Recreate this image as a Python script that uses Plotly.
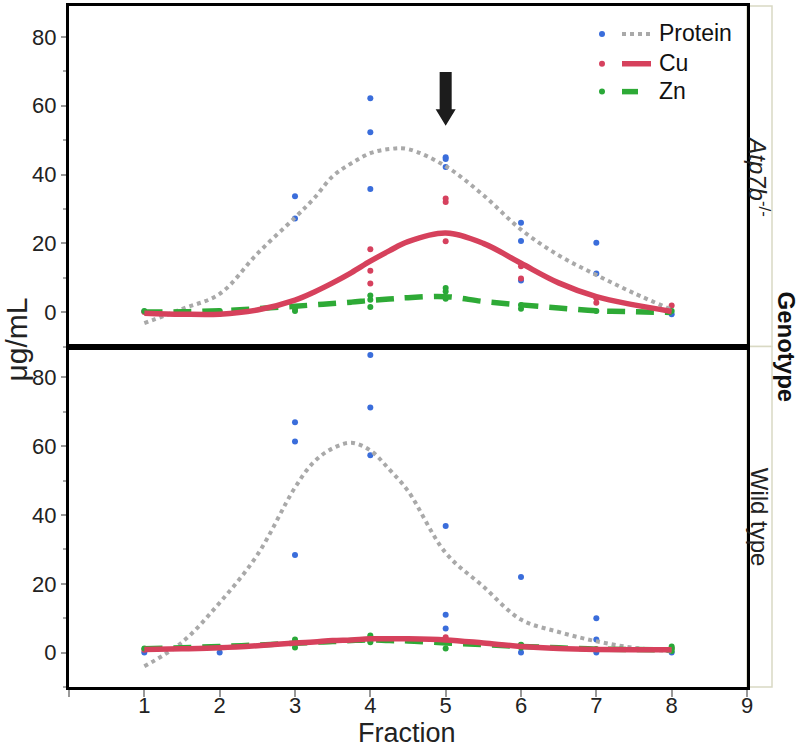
import plotly.graph_objects as go
from plotly.subplots import make_subplots

FONT = "Liberation Sans, Arial, sans-serif"

# ---------------- data ----------------
panels = ["Atp7b-/-", "Wild type"]

# raw measurements (Fraction, value) -- Atp7b-/- panel
ko_protein_x = [1, 2, 3, 3, 4, 4, 4, 5, 5, 5, 6, 6, 6, 7, 7, 8]
ko_protein_y = [0.2, -0.5, 33.7, 27.2, 62.2, 52.3, 35.8, 45.0, 44.5, 42.2, 26.0, 20.7, 9.2, 20.2, 11.2, -0.6]
ko_cu_x = [1, 2, 3, 4, 4, 4, 5, 5, 5, 6, 6, 7, 7, 8]
ko_cu_y = [0.0, 0.0, 1.0, 18.3, 12.0, 8.3, 33.0, 32.0, 20.6, 13.3, 9.8, 4.0, 2.7, 1.9]
ko_zn_x = [1, 2, 3, 3, 4, 4, 4, 5, 5, 5, 6, 6, 7, 8]
ko_zn_y = [0.3, 0.3, 1.3, 0.3, 4.8, 3.6, 1.5, 7.0, 6.0, 3.9, 2.1, 1.0, 0.3, 0.3]

# raw measurements -- Wild type panel
wt_protein_x = [1, 2, 3, 3, 3, 4, 4, 4, 5, 5, 5, 6, 6, 7, 7, 7, 8]
wt_protein_y = [0.0, 0.0, 67.0, 61.4, 28.4, 86.5, 71.3, 57.4, 36.8, 11.0, 7.0, 22.0, 0.0, 10.0, 3.8, 0.0, 0.0]
wt_cu_x = [1, 3, 4, 4, 5, 6, 7, 8]
wt_cu_y = [0.8, 3.0, 4.5, 3.5, 4.5, 2.2, 1.0, 1.2]
wt_zn_x = [1, 2, 3, 3, 3, 4, 4, 4, 5, 5, 6, 6, 7, 8, 8, 8]
wt_zn_y = [1.2, 1.5, 3.8, 2.8, 1.5, 5.0, 3.5, 3.0, 3.0, 1.2, 2.3, 1.5, 1.0, 1.8, 1.2, 0.5]

# fitted smooth curves
fit_x = [1, 1.5, 2, 2.5, 3, 3.25, 3.5, 3.75, 4, 4.25, 4.5, 5, 5.5, 6, 6.5, 7, 7.5, 8]
ko_protein_fit = [-3.2, 0.9, 5.3, 17.0, 27.5, 33.0, 39.5, 43.3, 46.2, 47.4, 47.4, 42.4, 34.0, 24.0, 16.5, 10.8, 5.5, 0.7]
ko_cu_fit = [-0.3, -0.6, -0.6, 0.6, 3.5, 5.8, 8.5, 11.5, 14.8, 17.8, 20.5, 23.0, 20.0, 14.2, 8.5, 4.5, 2.1, 0.2]
ko_zn_fit = [0.0, 0.1, 0.4, 1.0, 1.7, 2.1, 2.5, 2.9, 3.4, 3.8, 4.2, 4.5, 3.1, 2.1, 1.2, 0.4, 0.1, -0.1]
wt_protein_fit = [-4.0, 3.0, 14.5, 28.4, 48.0, 55.4, 59.4, 61.0, 58.8, 53.3, 47.0, 29.0, 19.2, 9.6, 6.0, 3.3, 1.4, 0.4]
wt_cu_fit = [0.9, 1.1, 1.4, 2.0, 2.8, 3.1, 3.5, 3.7, 4.0, 4.0, 4.0, 3.7, 2.8, 1.8, 1.2, 0.9, 0.8, 0.8]
wt_zn_fit = [1.1, 1.4, 1.8, 2.2, 2.7, 3.0, 3.2, 3.5, 3.7, 3.5, 3.4, 2.8, 2.3, 1.8, 1.4, 1.0, 0.9, 0.8]

series = ["Protein", "Cu", "Zn"]
x_tickvals = [1, 2, 3, 4, 5, 6, 7, 8, 9]
y_tickvals = [0, 20, 40, 60, 80]

# arrow marking fraction 5 in the top panel
arrow_x = 5
arrow_y = [69.8, 59.0, 54.2]  # top of shaft, start of head, tip

# ---------------- styles ----------------
dot_col = {"Protein": "#3a6ddb", "Cu": "#d6415e", "Zn": "#2aa838"}
line_style = {
    "Protein": dict(color="#a9a9a9", width=4, dash="4px,4px"),
    "Cu": dict(color="#d6415c", width=5.5, dash="solid"),
    "Zn": dict(color="#2eaa36", width=5.5, dash="18px,11px"),
}

fig = make_subplots(rows=2, cols=1, shared_xaxes=True, vertical_spacing=0)

panel_data = [
    (1, {"Protein": (ko_protein_x, ko_protein_y, ko_protein_fit),
         "Cu": (ko_cu_x, ko_cu_y, ko_cu_fit),
         "Zn": (ko_zn_x, ko_zn_y, ko_zn_fit)}),
    (2, {"Protein": (wt_protein_x, wt_protein_y, wt_protein_fit),
         "Cu": (wt_cu_x, wt_cu_y, wt_cu_fit),
         "Zn": (wt_zn_x, wt_zn_y, wt_zn_fit)}),
]

for row, d in panel_data:
    for s in series:
        px_, py_, fit = d[s]
        fig.add_trace(go.Scatter(x=px_, y=py_, mode="markers",
                                 marker=dict(size=6, color=dot_col[s]),
                                 showlegend=False, hoverinfo="skip"), row=row, col=1)
    for s in ["Protein", "Zn", "Cu"]:
        px_, py_, fit = d[s]
        fig.add_trace(go.Scatter(x=fit_x, y=fit, mode="lines", line_shape="spline",
                                 line=line_style[s], showlegend=False, hoverinfo="skip"),
                      row=row, col=1)

axis_common = dict(showline=True, linecolor="black", linewidth=3, mirror=True,
                   showgrid=False, zeroline=False)

for r in (1, 2):
    fig.update_yaxes(range=[-10, 89], tickvals=y_tickvals, ticks="outside", ticklen=5,
                     tickcolor="#999999", tickwidth=1.5,
                     minor=dict(dtick=10, tick0=0, ticks="outside", ticklen=3,
                                tickcolor="#aaaaaa", tickwidth=1.5),
                     tickfont=dict(family=FONT, size=22, color="#222222"),
                     row=r, col=1, **axis_common)

fig.update_xaxes(range=[0, 9], tickvals=x_tickvals, row=1, col=1,
                 ticks="", showticklabels=False, **axis_common)
fig.update_xaxes(range=[0, 9], tickvals=x_tickvals, row=2, col=1,
                 ticks="outside", ticklen=7, tickcolor="#999999", tickwidth=2,
                 ticklabelstandoff=-10,
                 minor=dict(dtick=1, tick0=0, ticks="outside", ticklen=7,
                            tickcolor="#999999", tickwidth=2),
                 tickfont=dict(family=FONT, size=22, color="#222222"), **axis_common)

shapes = []
annotations = []

# arrow (filled polygon in data units)
sw, hw = 0.08, 0.133
yt, yn, ytip = arrow_y
path = (f"M {arrow_x - sw},{yt} L {arrow_x + sw},{yt} L {arrow_x + sw},{yn} "
        f"L {arrow_x + hw},{yn} L {arrow_x},{ytip} L {arrow_x - hw},{yn} "
        f"L {arrow_x - sw},{yn} Z")
shapes.append(dict(type="path", path=path, xref="x", yref="y",
                   fillcolor="#1c1c1c", line=dict(width=0)))

# facet strips on the right
L, R, T, B = 69, 53, 3, 63
W, H = 800 - L - R, 750 - T - B
def px2x(px):
    return (px - L) / W
def py2y(py):
    return (750 - B - py) / H

strip_x1 = px2x(772)
for yd in ("y domain", "y2 domain"):
    shapes.append(dict(type="rect", xref="paper", yref=yd, x0=1.0, x1=strip_x1,
                       y0=0, y1=1, line=dict(color="#d9d9c4", width=1.5),
                       fillcolor="white", layer="below"))

annotations.append(dict(text="<i>Atp7b</i><sup>-/-</sup>", textangle=90,
                        xref="paper", yref="y domain", x=px2x(759), y=0.5,
                        showarrow=False, xanchor="center", yanchor="middle",
                        font=dict(family=FONT, size=24, color="#222222")))
annotations.append(dict(text="Wild type", textangle=90,
                        xref="paper", yref="y2 domain", x=px2x(759), y=0.5,
                        showarrow=False, xanchor="center", yanchor="middle",
                        font=dict(family=FONT, size=24, color="#222222")))
annotations.append(dict(text="<b>Genotype</b>", textangle=90,
                        xref="paper", yref="paper", x=px2x(786), y=py2y(345),
                        showarrow=False, xanchor="center", yanchor="middle",
                        font=dict(family=FONT, size=24, color="#111111")))

# axis titles
annotations.append(dict(text="μg/mL", textangle=-90, xref="paper", yref="paper",
                        x=px2x(17), y=py2y(338), showarrow=False,
                        xanchor="center", yanchor="middle",
                        font=dict(family=FONT, size=30, color="#222222")))
annotations.append(dict(text="Fraction", xref="paper", yref="paper",
                        x=px2x(407), y=py2y(733), showarrow=False,
                        xanchor="center", yanchor="middle",
                        font=dict(family=FONT, size=27, color="#222222")))

# custom legend (dot + line sample + label)
legend_rows = [("Protein", 31, 652), ("Cu", 61, 651), ("Zn", 89, 638)]
for name, py, lx1 in legend_rows:
    shapes.append(dict(type="circle", xref="paper", yref="paper",
                       xsizemode="pixel", ysizemode="pixel",
                       xanchor=px2x(602), yanchor=py2y(py),
                       x0=-3, x1=3, y0=-3, y1=3,
                       fillcolor=dot_col[name], line=dict(width=0)))
    ls = line_style[name]
    shapes.append(dict(type="line", xref="paper", yref="paper",
                       x0=px2x(622), x1=px2x(lx1), y0=py2y(py), y1=py2y(py),
                       line=dict(color=ls["color"], width=ls["width"],
                                 dash=ls["dash"] if name == "Protein" else "solid")))
    annotations.append(dict(text=name, xref="paper", yref="paper",
                            x=px2x(657), y=py2y(py - 1), showarrow=False,
                            xanchor="left", yanchor="middle",
                            font=dict(family=FONT, size=23, color="#111111")))

fig.update_layout(
    width=800, height=750,
    margin=dict(l=L, r=R, t=T, b=B),
    paper_bgcolor="white", plot_bgcolor="white",
    showlegend=False,
    shapes=shapes, annotations=annotations,
)

fig.write_html("out.html", config={"displayModeBar": False},
               post_script="document.body.style.margin='0';document.body.style.overflow='hidden';")
